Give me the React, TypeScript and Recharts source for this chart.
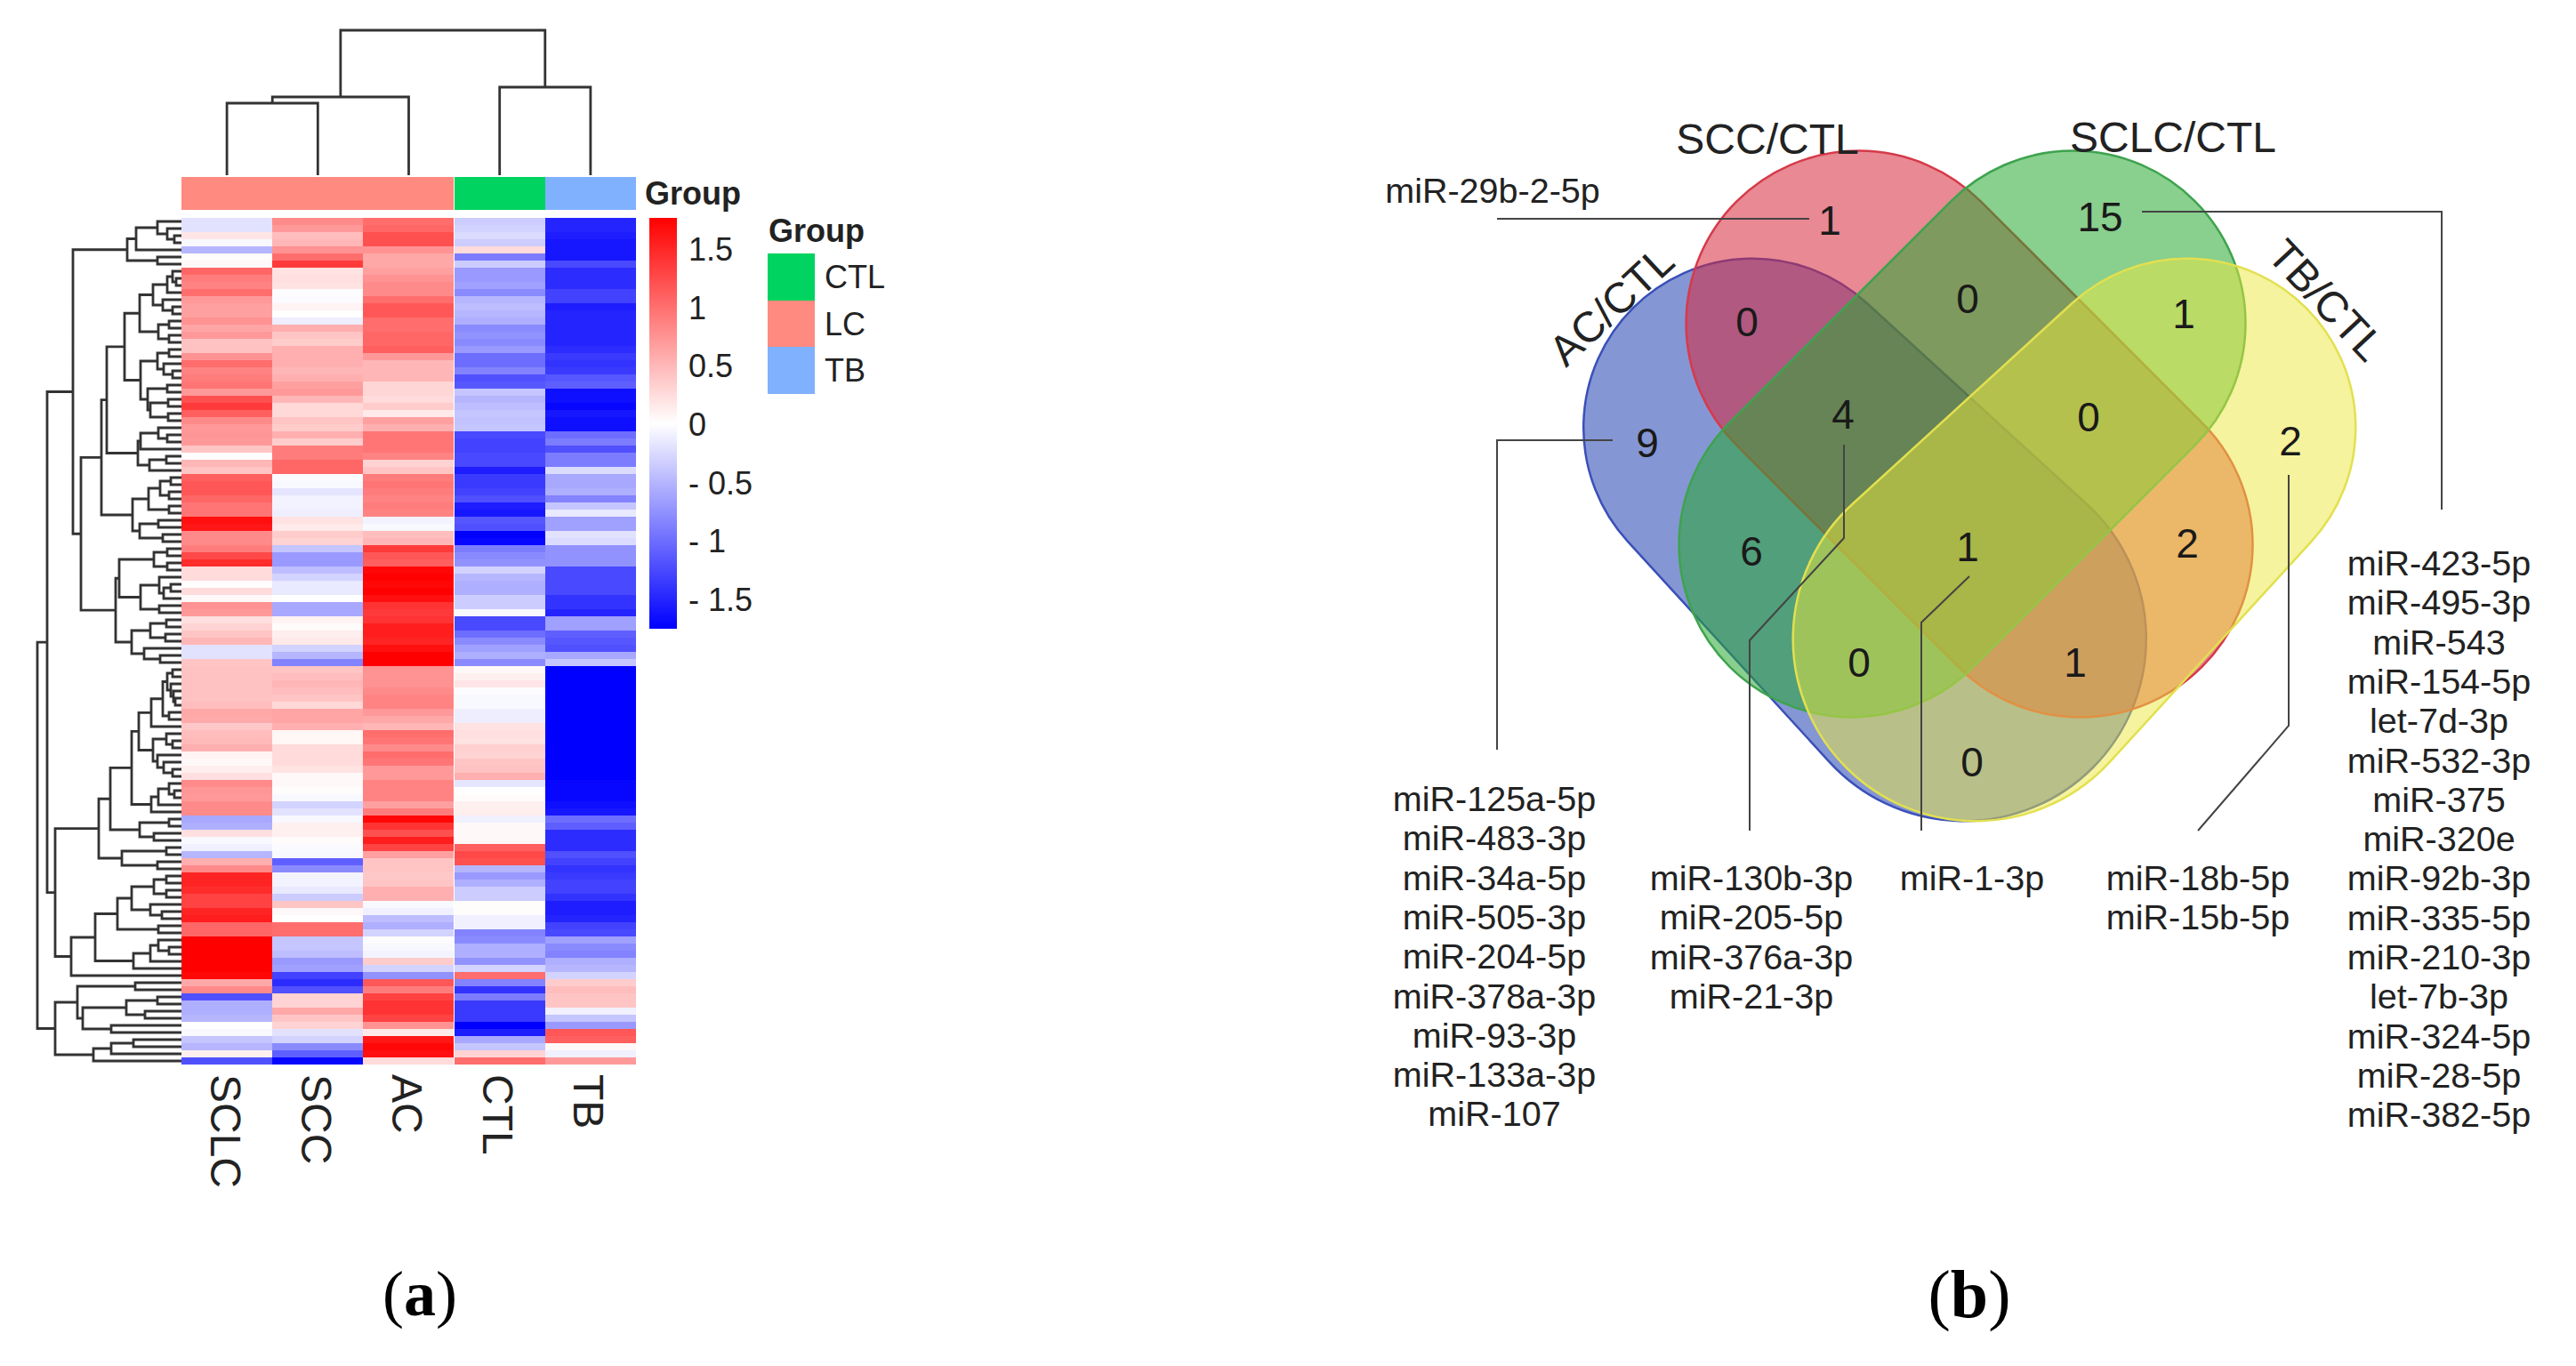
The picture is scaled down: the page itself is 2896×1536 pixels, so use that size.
import React from 'react'
import { Bar, BarChart, Cell, Line, LineChart, Scatter, ScatterChart, XAxis, YAxis } from 'recharts'

// heatmap (a): z-scores per sample, one value per row
const sampleNames = ['SCLC', 'SCC', 'AC', 'CTL', 'TB']
const sampleGroups = ['LC', 'LC', 'LC', 'CTL', 'TB']
const zSCLC = [
  -.2, -.2, .18, -.05, -.5, .02, .05, 1.05, .9, .85,
  1.0, .7, .65, .65, .75, .62, .7, .42, .42, .75,
  1.0, .85, .9, .95, .7, 1.2, 1.35, 1.1, .8, .7,
  .72, .7, .4, .02, .5, .4, 1.1, 1.15, 1.15, 1.05,
  .95, .95, 1.65, 1.6, .8, .8, .9, 1.25, 1.45, .25,
  .25, .02, .25, .05, .75, .7, .22, .3, .4, .5,
  -.2, -.2, .4, .42, .42, .42, .42, .42, .45, .6,
  .58, .38, .45, .48, .55, .08, .05, .12, .22, .8,
  .72, .7, .8, .8, -.6, -.55, .22, -.05, -.1, -.5,
  .55, .8, 1.5, 1.5, 1.45, 1.3, 1.3, 1.5, 1.55, 1.05,
  1.05, 1.75, 1.75, 1.75, 1.75, 1.75, 1.7, .6, .8, -1.2,
  -.55, -.55, -.5, 0, -.05, -.4, -.5, .1, -1.2,
]
const zSCC = [
  .8, .7, .45, .5, .75, 1.0, 1.35, .2, .22, .2,
  -.02, -.03, .08, 0, -.12, .55, .4, .35, .55, .55,
  .55, .5, .55, .65, .7, .5, .27, .27, .4, .35,
  .55, .35, .9, .9, 1.05, 1.05, -.03, -.05, -.18, -.08,
  -.08, -.12, .2, .15, .35, .3, -.4, -.7, -.7, -.45,
  -.3, -.15, -.15, 0, -.6, -.6, .08, .03, .12, .15,
  -.3, -.5, -.85, .4, .45, .5, .45, .4, .27, .62,
  .62, .55, .06, .06, .25, .25, .25, .2, .05, .05,
  .02, -.05, -.3, -.2, -.05, .1, .1, .03, -.03, -.05,
  -1.1, -.8, -.08, -.08, -.15, -.35, .4, .05, 0, 1.0,
  1.0, -.4, -.4, -.45, -.7, -.65, -1.3, -1.45, -1.2, .3,
  .3, .6, .4, .3, -.2, -.3, -.8, -1.1, -1.7,
]
const zAC = [
  1.0, 1.05, 1.2, 1.2, .75, .6, .6, .65, .75, .8,
  .8, 1.0, 1.15, 1.15, 1.0, 1.0, 1.05, 1.05, 1.1, .7,
  .5, .5, .5, .28, .28, .25, .35, .15, .65, .55,
  .95, .95, .95, .85, .3, .4, .9, .95, .9, .85,
  .9, .85, -.08, -.05, .45, .5, 1.35, 1.15, 1.1, 1.7,
  1.75, 1.7, 1.75, 1.65, 1.4, 1.35, 1.4, 1.55, 1.55, 1.5,
  1.65, 1.75, 1.75, .75, .75, .75, .8, .85, .85, .7,
  .6, .5, 1.0, .95, .8, 1.0, .95, .7, .7, .85,
  .85, .85, .65, .9, 1.7, 1.4, 1.2, 1.55, 1.3, .65,
  .4, .4, .38, .4, .55, .55, -.05, -.1, -.45, -.55,
  -.3, -.02, -.05, -.08, .35, -.3, -.75, 1.15, .9, 1.3,
  1.4, 1.4, 1.3, .75, .15, 1.6, 1.7, 1.65, .25,
]
const zCTL = [
  -.35, -.3, -.25, -.35, .25, -.9, -.35, -.7, -.7, -.65,
  -.8, -.5, -.45, -.5, -.55, -.8, -.75, -.8, -.7, -1.0,
  -1.0, -.85, -1.2, -1.15, -.4, -.5, -.45, -.4, -.42, -.4,
  -1.25, -1.3, -1.3, -1.25, -1.25, -1.55, -1.35, -1.35, -1.3, -1.2,
  -1.55, -1.6, -1.15, -1.2, -1.75, -1.7, -.9, -.8, -.75, -.3,
  -.5, -.55, -.55, -.35, -.35, -.05, -1.25, -1.25, -1.0, -.8,
  -.65, -.55, -.8, .05, .1, .18, -.02, -.05, -.05, -.12,
  -.12, .2, .22, .2, .32, .3, .4, .42, .55, -.18,
  0, .03, .1, .12, -.1, .05, .05, .05, 1.1, 1.25,
  1.2, -.5, -.7, -.55, -.35, -.35, .02, .02, -.1, -.1,
  -.85, -.8, -.55, -.55, -.75, -.3, 1.0, -.85, -1.4, -.9,
  -1.35, -1.35, -1.35, -1.75, -1.55, -.6, -.4, .3, 1.0,
]
const zTB = [
  -1.5, -1.5, -1.55, -1.6, -1.6, -1.6, -1.25, -1.45, -1.45, -1.45,
  -1.3, -1.3, -1.55, -1.5, -1.5, -1.5, -1.5, -1.5, -1.45, -1.35,
  -1.4, -1.35, -1.15, -1.1, -1.65, -1.65, -1.7, -1.6, -1.65, -1.65,
  -1.0, -.9, -1.2, -.9, -.9, -.25, -.6, -.6, -.55, -.85,
  -.4, -.15, -.65, -.65, -.2, -.25, -.75, -.75, -.75, -1.25,
  -1.25, -1.25, -1.25, -1.4, -1.4, -1.5, -.65, -.65, -1.1, -1.15,
  -1.2, -.6, -.4, -1.75, -1.75, -1.75, -1.75, -1.75, -1.75, -1.75,
  -1.75, -1.75, -1.75, -1.75, -1.75, -1.75, -1.75, -1.75, -1.75, -1.7,
  -1.7, -1.7, -1.65, -1.6, -1.0, -1.1, -1.45, -1.45, -1.45, -1.2,
  -1.3, -1.4, -1.35, -1.3, -1.3, -1.4, -1.55, -1.55, -1.5, -1.3,
  -1.25, -.65, -.8, -.85, -.55, -.5, -.3, .35, .45, .4,
  .4, -.1, -.4, -.7, 1.15, 1.1, .05, -.1, .7,
]
const zBySample = [zSCLC, zSCC, zAC, zCTL, zTB]

// dendrograms: [merge height, first child, second child], 0 is a leaf
const sampleTree = [163, [88, [81, 0, 0], 0], [99, 0, 0]]
const rowClusterTop = [61, [51, [27, 0, [16, 0, [8, 0, 0]]], 0], [27, 0, 0]]
const rowCluster64 = [64,
  [47, [32, [16, [10, 0, [6, 0, 0]], 0], [21, 0, [10, 0, 0]]], [26, [14, 0, 0], [14, 0, 0]]],
  [46, [27, [14, 0, 0], [20, 0, [10, 0, 0]]], [38, [16, 0, 0], [35, [15, 0, 0], [15, 0, 0]]]]]
const rowCluster90 = [90,
  [84, rowCluster64, [49, [46, [26, 0, [16, 0, 0]], 0], [36, [17, 0, 0], 0]]],
  [55, [37, [24, [12, 0, 0], [14, 0, 0]], [14, 0, 0]], [47, [26, 0, 0], [21, 0, 0]]]]
const rowCluster74 = [74,
  [70, [31, [16, 0, 0], [16, 0, 0]], [46, [25, 0, [20, [12, 0, 0], 0]], [25, 0, 0]]],
  [56, [35, [17, 0, 0], [18, 0, 0]], [42, 0, [24, 0, 0]]]]
const rowCluster93 = [93,
  [80,
    [56,
      [48, [34, [21, [16, [10, 0, 0], [12, 0, [9, 0, [7, 0, 0]]]], [14, 0, 0]], 0],
        [32, [17, 0, [10, 0, 0]], [27, 0, [20, 0, [10, 0, 0]]]]],
      [34, [26, [14, 0, [8, 0, 0]], 0], 0]],
    [47, [14, 0, 0], [31, 0, 0]]],
  [67, [17, 0, 0], [27, 0, 0]]]
const rowCluster124 = [124,
  [97,
    [72, [56, [31, [17, 0, 0], [17, 0, 0]], [35, 0, [22, 0, 0]]], [26, 0, 0]],
    [54, [35, [26, 0, [14, 0, 0]], 0], 0]],
  0]
const rowClusterBottom = [142,
  [117, [52, 0, 0], [111, [62, [27, 0, 0], [41, 0, 0]], [79, 0, 0]]],
  [99, [79, [54, 0, 0], 0], 0]]
const rowTree = [162,
  [151, [122, rowClusterTop, [113, rowCluster90, rowCluster74]], [142, rowCluster93, rowCluster124]],
  rowClusterBottom]

// colour key and group legend
const colorKeyTicks = [-1.5, -1, -0.5, 0, 0.5, 1, 1.5]
const groupNames = ['CTL', 'LC', 'TB']
const groupColors = { CTL: '#00d35f', LC: '#fe8a80', TB: '#80b1ff' }

// venn (b)
const vennSets = ['AC/CTL', 'SCC/CTL', 'SCLC/CTL', 'TB/CTL']
const vennSetX = [2089, 2214, 2206, 2339.5]
const vennSetY = [599.5, 488, 488, 599.5]
const vennSetAngle = [45, 45, -45, 135]
const vennSetSpan = [336, 352, 352, 336]
const vennSetEndRadius = [205, 194, 194, 205]
const vennSetStartRadius = [190, 194, 194, 190]
const vennSetFill = ['rgba(51,80,184,.6)', 'rgba(214,40,60,.55)', 'rgba(40,167,50,.55)', 'rgba(235,232,60,.5)']
const vennSetStroke = ['#3b50b8', '#d63a4a', '#3ea34e', '#e2e050']
const vennCounts = [1, 15, 0, 1, 0, 4, 0, 9, 2, 6, 1, 2, 0, 1, 0]
const vennCountX = [2057, 2361, 2212, 2455, 1964, 2072, 2348, 1852, 2575, 1969, 2212, 2459, 2090, 2333, 2217]
const vennCountY = [248, 244, 336, 353, 362, 466, 469, 498, 496, 620, 615, 611, 745, 745, 857]
const leaderX = [1683, 2034, 2034, 2408, 2745, 2745, 2745, 1813, 1683, 1683, 1683, 2073, 2073, 1967, 1967, 1967, 2214, 2160, 2160, 2160, 2573, 2573, 2471]
const leaderY = [246, 246, null, 238, 238, 573, null, 495, 495, 843, null, 500, 605, 720, 934, null, 648, 700, 934, null, 534, 816, 934]

const listAC = ['miR-125a-5p', 'miR-483-3p', 'miR-34a-5p', 'miR-505-3p', 'miR-204-5p', 'miR-378a-3p', 'miR-93-3p', 'miR-133a-3p', 'miR-107']
const list4 = ['miR-130b-3p', 'miR-205-5p', 'miR-376a-3p', 'miR-21-3p']
const list1 = ['miR-1-3p']
const listTB = ['miR-18b-5p', 'miR-15b-5p']
const listSCLC = ['miR-423-5p', 'miR-495-3p', 'miR-543', 'miR-154-5p', 'let-7d-3p', 'miR-532-3p', 'miR-375', 'miR-320e', 'miR-92b-3p', 'miR-335-5p', 'miR-210-3p', 'let-7b-3p', 'miR-324-5p', 'miR-28-5p', 'miR-382-5p']

const FONT = '"Liberation Sans", Arial, sans-serif'
const INK = '#222'

function heatColor(z: number) {
  const t = Math.min(Math.abs(z) / 1.75, 1)
  const c = Math.round(255 * (1 - t))
  return z >= 0 ? `rgb(255,${c},${c})` : `rgb(${c},${c},255)`
}

// walks a merge tree, returns polyline points with a gap after each merge
function treePoints(tree: any, gap: (p: any) => any) {
  const pts: any[] = []
  let leaf = 0
  const walk = (node: any): { at: number; h: number } => {
    if (node === 0) {
      leaf += 1
      return { at: leaf - 0.5, h: 0 }
    }
    const a = walk(node[1])
    const b = walk(node[2])
    const h = node[0]
    pts.push(
      { leaf: a.at, height: a.h },
      { leaf: a.at, height: h },
      { leaf: b.at, height: h },
      { leaf: b.at, height: b.h },
    )
    pts.push(gap(pts[pts.length - 1]))
    return { at: (a.at + b.at) / 2, h }
  }
  walk(tree)
  return pts
}

const rowCount = zSCLC.length
const rowKeys = zSCLC.map((_, i) => 'r' + i)
const heatData = sampleNames.map((sample) => {
  const row: any = { sample }
  rowKeys.forEach((k) => { row[k] = 1 })
  return row
})
const annotationData = sampleNames.map((sample, i) => ({ sample, group: sampleGroups[i], v: 1 }))
const legendData = groupNames.map((name) => ({ name, v: 1 }))
const keyData = [{ name: 'key', range: [-1.75, 1.77] }]
const vennSetData = vennSets.map((name, i) => ({ name, x: vennSetX[i], y: vennSetY[i], i }))
const vennCountData = vennCounts.map((count, i) => ({ count, x: vennCountX[i], y: vennCountY[i] }))
const leaderData = leaderX.map((x, i) => ({ x, y: leaderY[i] }))

function SampleTick({ x, y, payload }: any) {
  return (
    <text x={x - 2} y={y + 3} transform={`rotate(90 ${x - 2} ${y + 3})`} textAnchor="start" dominantBaseline="central"
      fontFamily={FONT} fontSize={48} fill={INK}>
      {payload.value}
    </text>
  )
}

// a capsule whose two round ends can differ in radius: hull of two circles on a rotated axis
function VennSetShape({ cx, cy, payload }: any) {
  const i = payload.i
  const half = vennSetSpan[i] / 2
  const r1 = vennSetStartRadius[i]
  const r2 = vennSetEndRadius[i]
  const t = (r2 - r1) / vennSetSpan[i]
  const c = Math.sqrt(1 - t * t)
  const d = [
    `M${cx - half - r1 * t} ${cy - r1 * c}`,
    `A${r1} ${r1} 0 0 0 ${cx - half - r1 * t} ${cy + r1 * c}`,
    `L${cx + half - r2 * t} ${cy + r2 * c}`,
    `A${r2} ${r2} 0 1 0 ${cx + half - r2 * t} ${cy - r2 * c}`,
    'Z',
  ].join('')
  return (
    <path d={d} transform={`rotate(${vennSetAngle[i]} ${cx} ${cy})`}
      fill={vennSetFill[i]} stroke={vennSetStroke[i]} strokeWidth={2.5} />
  )
}

function CountShape({ cx, cy, payload }: any) {
  return (
    <text x={cx} y={cy} textAnchor="middle" dominantBaseline="central" fontFamily={FONT} fontSize={46} fill="#1a1a1a">
      {payload.count}
    </text>
  )
}

function Abs({ left, top, children }: any) {
  return <div style={{ position: 'absolute', left, top }}>{children}</div>
}

function Label({ x, y, size = 36, bold = false, anchor = 'left', angle = 0, children }: any) {
  const shift = anchor === 'center' ? '-50%' : '0'
  return (
    <div style={{
      position: 'absolute', left: x, top: y, whiteSpace: 'nowrap', fontFamily: FONT, fontSize: size, color: INK,
      fontWeight: bold ? 700 : 400, lineHeight: 1, transform: `translate(${shift}, -50%) rotate(${angle}deg)`,
    }}>
      {children}
    </div>
  )
}

function MirList({ x, y, names }: any) {
  return (
    <>
      {names.map((n: string, i: number) => (
        <Label key={n} x={x} y={y + i * 44.3} size={39.5} anchor="center">{n}</Label>
      ))}
    </>
  )
}

export default function App() {
  return (
    <div style={{ position: 'absolute', left: 0, top: 0, width: 2896, height: 1536, background: '#fff', overflow: 'hidden' }}>
      {/* column dendrogram */}
      <Abs left={204} top={30}>
        <LineChart width={511} height={167} data={treePoints(sampleTree, (p) => ({ leaf: p.leaf, height: null }))} margin={{ top: 0, right: 0, bottom: 0, left: 0 }}>
          <XAxis dataKey="leaf" type="number" domain={[0, 5]} hide />
          <YAxis type="number" domain={[0, 167]} hide />
          <Line dataKey="height" dot={false} stroke="#333" strokeWidth={2.8} isAnimationActive={false} />
        </LineChart>
      </Abs>

      {/* row dendrogram */}
      <Abs left={30} top={245}>
        <LineChart width={174} height={952} data={treePoints(rowTree, (p) => ({ height: p.height, leaf: null }))} margin={{ top: 0, right: 0, bottom: 0, left: 0 }}>
          <XAxis dataKey="height" type="number" domain={[0, 174]} reversed hide />
          <YAxis type="number" domain={[0, rowCount]} reversed hide />
          <Line dataKey="leaf" dot={false} stroke="#333" strokeWidth={2.8} isAnimationActive={false} />
        </LineChart>
      </Abs>

      {/* group annotation strip */}
      <Abs left={204} top={199}>
        <BarChart width={511} height={37} data={annotationData} barCategoryGap={0} margin={{ top: 0, right: 0, bottom: 0, left: 0 }}>
          <XAxis dataKey="sample" hide />
          <YAxis domain={[0, 1]} hide />
          <Bar dataKey="v" isAnimationActive={false} shapeRendering="crispEdges">
            {annotationData.map((d) => <Cell key={d.sample} fill={groupColors[d.group]} />)}
          </Bar>
        </BarChart>
      </Abs>

      {/* heatmap */}
      <Abs left={204} top={245}>
        <BarChart width={511} height={1132} data={heatData} barCategoryGap={0} margin={{ top: 0, right: 0, bottom: 0, left: 0 }}>
          <XAxis dataKey="sample" height={180} axisLine={false} tickLine={false} tick={<SampleTick />} interval={0} />
          <YAxis type="number" domain={[0, rowCount]} reversed hide />
          {rowKeys.map((k, r) => (
            <Bar key={k} dataKey={k} stackId="rows" isAnimationActive={false} shapeRendering="crispEdges">
              {zBySample.map((z, c) => <Cell key={c} fill={heatColor(z[r])} />)}
            </Bar>
          ))}
        </BarChart>
      </Abs>

      {/* colour key */}
      <Abs left={730} top={245}>
        <BarChart width={190} height={462} data={keyData} barCategoryGap={0} margin={{ top: 0, right: 0, bottom: 0, left: 0 }}>
          <defs>
            <linearGradient id="heatKey" x1="0" y1="0" x2="0" y2="1">
              <stop offset="0%" stopColor={heatColor(1.75)} />
              <stop offset="50%" stopColor="#fff" />
              <stop offset="100%" stopColor={heatColor(-1.75)} />
            </linearGradient>
          </defs>
          <XAxis dataKey="name" hide />
          <YAxis type="number" orientation="right" domain={[-1.75, 1.77]} ticks={colorKeyTicks} interval={0} width={159}
            axisLine={false} tickLine={false} tickMargin={7}
            tick={{ fontFamily: FONT, fontSize: 36, fill: INK }}
            tickFormatter={(v: number) => (v < 0 ? `- ${Math.abs(v)}` : `${v}`)} />
          <Bar dataKey="range" fill="url(#heatKey)" isAnimationActive={false} />
        </BarChart>
      </Abs>

      {/* group legend */}
      <Abs left={863} top={285}>
        <BarChart layout="vertical" width={140} height={158} data={legendData} barCategoryGap={0} margin={{ top: 0, right: 0, bottom: 0, left: 0 }}>
          <XAxis type="number" domain={[0, 1]} hide />
          <YAxis type="category" dataKey="name" orientation="right" width={87} axisLine={false} tickLine={false} tickMargin={5}
            tick={{ fontFamily: FONT, fontSize: 36, fill: INK }} />
          <Bar dataKey="v" isAnimationActive={false} shapeRendering="crispEdges">
            {legendData.map((d) => <Cell key={d.name} fill={groupColors[d.name]} />)}
          </Bar>
        </BarChart>
      </Abs>
      <Label x={725} y={218} bold>Group</Label>
      <Label x={864} y={260} bold>Group</Label>

      {/* venn */}
      <Abs left={1560} top={120}>
        <ScatterChart width={1336} height={1200} margin={{ top: 0, right: 0, bottom: 0, left: 0 }}>
          <XAxis dataKey="x" type="number" domain={[1560, 2896]} hide />
          <YAxis dataKey="y" type="number" domain={[120, 1320]} reversed hide />
          <Scatter data={vennSetData} shape={<VennSetShape />} isAnimationActive={false} />
          <Scatter data={vennCountData} shape={<CountShape />} isAnimationActive={false} />
        </ScatterChart>
      </Abs>
      <Abs left={1560} top={120}>
        <LineChart width={1336} height={1200} data={leaderData} margin={{ top: 0, right: 0, bottom: 0, left: 0 }}>
          <XAxis dataKey="x" type="number" domain={[1560, 2896]} hide />
          <YAxis type="number" domain={[120, 1320]} reversed hide />
          <Line dataKey="y" dot={false} stroke="#444" strokeWidth={2} isAnimationActive={false} />
        </LineChart>
      </Abs>

      <Label x={1987} y={157} size={48} anchor="center">{vennSets[1]}</Label>
      <Label x={2443} y={155} size={48} anchor="center">{vennSets[2]}</Label>
      <Label x={1812} y={344} size={48} anchor="center" angle={-43}>{vennSets[0]}</Label>
      <Label x={2615} y={338} size={48} anchor="center" angle={47}>{vennSets[3]}</Label>

      <Label x={1678} y={215} size={39.5} anchor="center">miR-29b-2-5p</Label>
      <MirList x={1680} y={899} names={listAC} />
      <MirList x={1969} y={988} names={list4} />
      <MirList x={2217} y={988} names={list1} />
      <MirList x={2471} y={988} names={listTB} />
      <MirList x={2742} y={634} names={listSCLC} />

      <div style={{ position: 'absolute', left: 472, top: 1455, transform: 'translate(-50%,-50%)', fontFamily: '"Liberation Serif", serif', fontSize: 72, color: '#000', lineHeight: 1 }}>
        (<b>a</b>)
      </div>
      <div style={{ position: 'absolute', left: 2214, top: 1455, transform: 'translate(-50%,-50%)', fontFamily: '"Liberation Serif", serif', fontSize: 76, color: '#000', lineHeight: 1 }}>
        (<b>b</b>)
      </div>
    </div>
  )
}
